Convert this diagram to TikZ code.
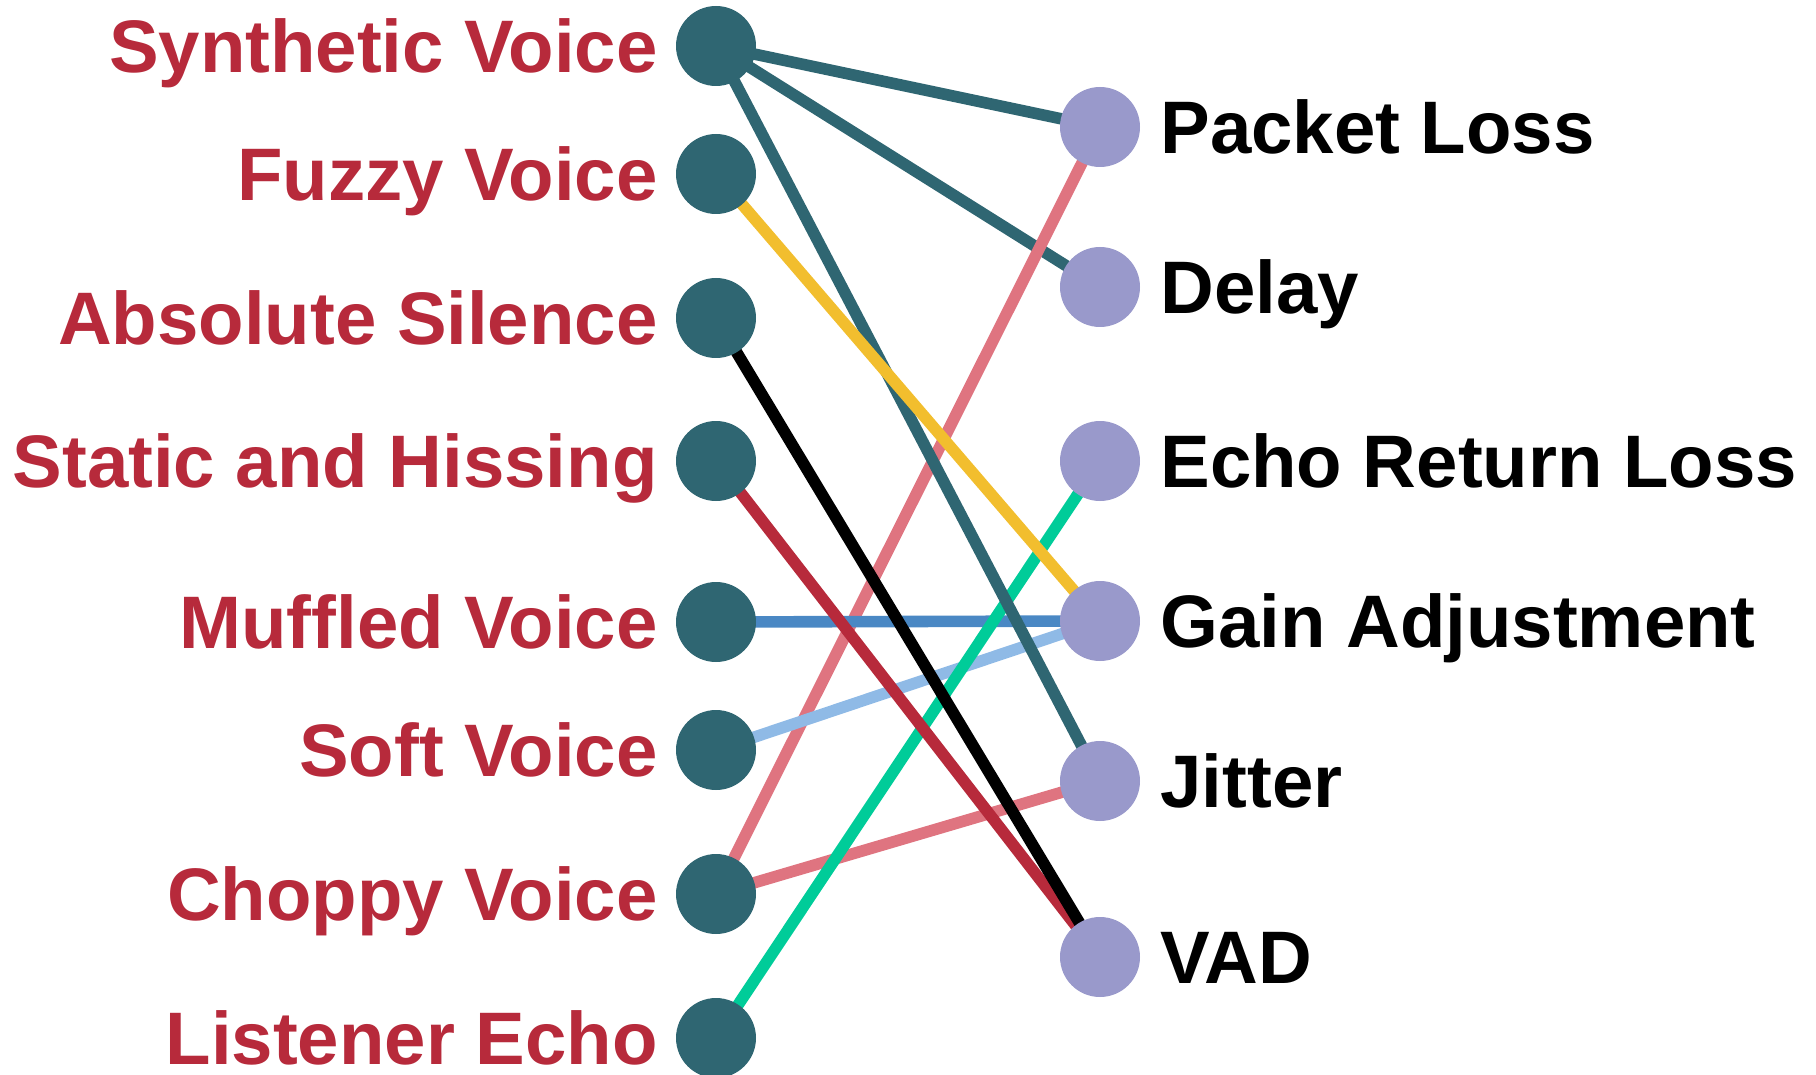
\documentclass[tikz,border=0pt]{standalone}
\usepackage{fontspec}
\setmainfont{Liberation Sans}
\definecolor{symptom}{HTML}{2F6672}
\definecolor{cause}{HTML}{9999CB}
\definecolor{symlabel}{HTML}{B72A3B}
\definecolor{cteal}{HTML}{2F6672}
\definecolor{cyellow}{HTML}{F2BE2E}
\definecolor{cpink}{HTML}{DF7480}
\definecolor{cred}{HTML}{B72A3B}
\definecolor{cblue}{HTML}{4A88C4}
\definecolor{clight}{HTML}{8FBAE6}
\definecolor{cgreen}{HTML}{00CC99}
\tikzset{
  lnode/.style={circle,fill=symptom,inner sep=0pt,minimum size=40pt},
  rnode/.style={circle,fill=cause,inner sep=0pt,minimum size=40pt},
  llabel/.style={anchor=base east,inner sep=0pt,text=symlabel,font=\fontsize{37.2pt}{44pt}\selectfont\bfseries},
  rlabel/.style={anchor=base west,inner sep=0pt,text=black,font=\fontsize{37.2pt}{44pt}\selectfont\bfseries},
  link/.style={line width=5.8pt},
}
\begin{document}
\begin{tikzpicture}[x=0.5pt,y=-0.5pt]
\useasboundingbox (0,0) rectangle (1816,1075);
% symptom nodes (left column)
\coordinate (s1) at (716,46);
\coordinate (s2) at (716,174);
\coordinate (s3) at (716,318);
\coordinate (s4) at (716,461);
\coordinate (s5) at (716,622);
\coordinate (s6) at (716,750);
\coordinate (s7) at (716,894);
\coordinate (s8) at (716,1038);
% cause nodes (right column)
\coordinate (c1) at (1100,127);
\coordinate (c2) at (1100,287);
\coordinate (c3) at (1100,461);
\coordinate (c4) at (1100,621);
\coordinate (c5) at (1100,781);
\coordinate (c6) at (1100,957);
% connections
\draw[link,cteal] (s1) -- (c2);
\draw[link,cteal] (s1) -- (c1);
\draw[link,cpink] (s7) -- (c1);
\draw[link,cpink] (s7) -- (c5);
\draw[link,cblue] (s5) -- (c4);
\draw[link,clight] (s6) -- (c4);
\draw[link,cgreen] (s8) -- (c3);
\draw[link,cred] (s4) -- (c6);
\draw[link,black] (s3) -- (c6);
\draw[link,cteal] (s1) -- (c5);
\draw[link,cyellow] (s2) -- (c4);
% circles
\foreach \i in {1,...,8} \node[lnode] (n\i) at (s\i) {};
\foreach \i in {1,...,6} \node[rnode] (m\i) at (c\i) {};
% symptom labels
\node[llabel] (t1) at (658,72.5) {Synthetic Voice};
\node[llabel] (t2) at (658,200.5) {Fuzzy Voice};
\node[llabel] (t3) at (658,344.5) {Absolute Silence};
\node[llabel] (t4) at (658,487.5) {Static and Hissing};
\node[llabel] (t5) at (658,648.5) {Muffled Voice};
\node[llabel] (t6) at (658,776.5) {Soft Voice};
\node[llabel] (t7) at (658,920.5) {Choppy Voice};
\node[llabel] (t8) at (658,1064.5) {Listener Echo};
% cause labels
\node[rlabel] (u1) at (1160,153.5) {Packet Loss};
\node[rlabel] (u2) at (1160,313.5) {Delay};
\node[rlabel] (u3) at (1160,487.5) {Echo Return Loss};
\node[rlabel] (u4) at (1160,647.5) {Gain Adjustment};
\node[rlabel] (u5) at (1160,807.5) {Jitter};
\node[rlabel] (u6) at (1160,983.5) {VAD};
\end{tikzpicture}
\end{document}
